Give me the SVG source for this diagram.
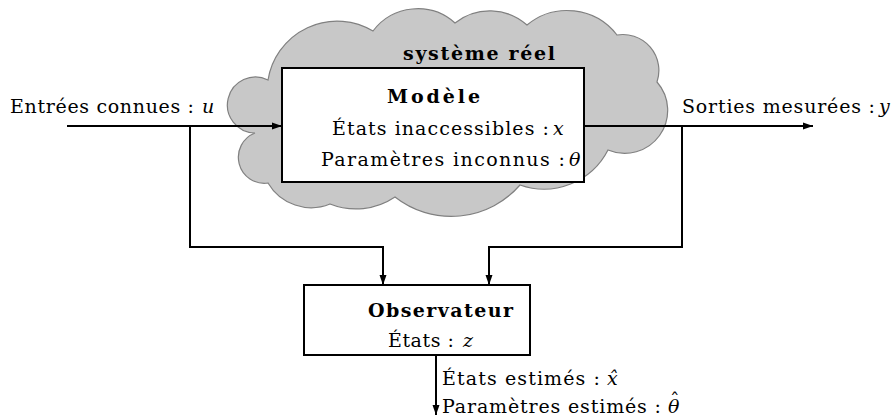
<svg xmlns="http://www.w3.org/2000/svg" width="896" height="417" viewBox="0 0 896 417">
<style>
text{font-family:"DejaVu Serif","Liberation Serif",serif;font-size:19px;fill:#000}
.b{font-weight:bold}
.i{font-style:italic}
.box{fill:#fff;stroke:#000;stroke-width:2}
.ln{fill:none;stroke:#000;stroke-width:2}
</style>
<defs>
<marker id="ah" viewBox="0 0 10 10" refX="10" refY="5" markerWidth="5" markerHeight="5" orient="auto" markerUnits="strokeWidth">
<path d="M0,1.5 L10,5 L0,8.5 Z" fill="#000"/>
</marker>
</defs>
<g id="cloud">
<path d="M 268 80 A 70 70 0 0 1 373 31 A 56 56 0 0 1 455 23 A 56 56 0 0 1 527 25 A 63 63 0 0 1 617 35 A 36 36 0 0 1 657 82 A 43 43 0 0 1 608 150 A 72 72 0 0 1 520 185 A 91 91 0 0 1 395 197 A 70 70 0 0 1 330 204 A 50 50 0 0 1 268 183 A 26 26 0 0 1 255 133 A 28 28 0 1 1 268 80 Z" fill="#c8c8c8" stroke="#808080" stroke-width="1.2"/>
<text class="b" x="403" y="60" textLength="152" lengthAdjust="spacing">système réel</text>
</g>
<g id="connectors">
<line class="ln" x1="67" y1="126" x2="282" y2="126" marker-end="url(#ah)"/>
<polyline class="ln" points="190,126 190,247 383,247 383,285" marker-end="url(#ah)"/>
<line class="ln" x1="584" y1="126" x2="813" y2="126" marker-end="url(#ah)"/>
<polyline class="ln" points="682,126 682,247 489,247 489,285" marker-end="url(#ah)"/>
<line class="ln" x1="436" y1="355" x2="436" y2="415" marker-end="url(#ah)"/>
</g>
<g id="modele">
<rect class="box" x="282" y="68" width="302" height="114"/>
<text class="b" x="387" y="103" textLength="93" lengthAdjust="spacing">Modèle</text>
<text x="332" y="135" textLength="217" lengthAdjust="spacing">États inaccessibles :</text>
<text class="i" x="553" y="135">x</text>
<text x="321" y="166" textLength="244" lengthAdjust="spacing">Paramètres inconnus :</text>
<text class="i" x="569" y="166">θ</text>
</g>
<g id="observateur">
<rect class="box" x="304" y="285" width="226" height="70"/>
<text class="b" x="368" y="317" textLength="145" lengthAdjust="spacing">Observateur</text>
<text x="388" y="347" textLength="66" lengthAdjust="spacing">États :</text>
<text class="i" x="463" y="347">z</text>
</g>
<g id="labels">
<text x="10" y="113" textLength="184" lengthAdjust="spacing">Entrées connues :</text>
<text class="i" x="202" y="113">u</text>
<text x="682" y="113" textLength="193" lengthAdjust="spacing">Sorties mesurées :</text>
<text class="i" x="879" y="113">y</text>
<text x="442" y="385" textLength="158" lengthAdjust="spacing">États estimés :</text>
<text class="i" x="607" y="385">x̂</text>
<text x="442" y="413" textLength="219" lengthAdjust="spacing">Paramètres estimés :</text>
<text class="i" x="668" y="413">θ<tspan x="670" y="407" font-style="normal">ˆ</tspan></text>
</g>
</svg>
